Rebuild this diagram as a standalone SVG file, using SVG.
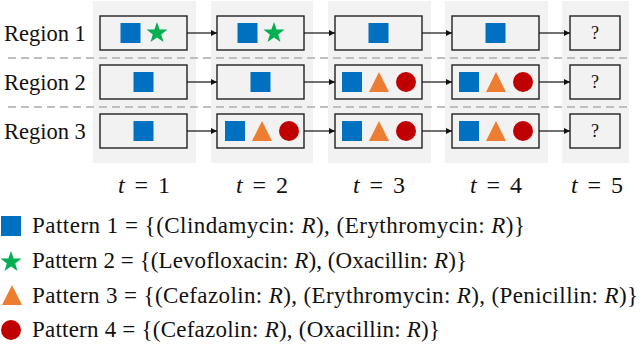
<svg xmlns="http://www.w3.org/2000/svg" xmlns:xlink="http://www.w3.org/1999/xlink" width="640" height="345" viewBox="0 0 640 345">
<style>
.col{fill:#f2f2f2}
.box{fill:#f2f2f2;stroke:#222;stroke-width:1.4}
.sq{fill:#0070c0}
.st{fill:#00b050}
.tr{fill:#ed7d31}
.ci{fill:#c00000}
.dash{stroke:#bfbfbf;stroke-width:2;stroke-dasharray:8 5;fill:none}
.edge{stroke:#111;stroke-width:1.2;fill:none;marker-end:url(#ah)}
.lbl{font-family:"Liberation Serif","Times New Roman",serif;font-size:22.5px;fill:#111}
.q{font-family:"Liberation Serif","Times New Roman",serif;font-size:18px;fill:#111;text-anchor:middle}
.t{font-family:"Liberation Serif","Times New Roman",serif;font-size:24px;fill:#111;text-anchor:middle}
.leg{font-family:"Liberation Serif","Times New Roman",serif;font-size:23px;fill:#111}
.i{font-style:italic}
</style>
<defs>
<marker id="ah" viewBox="0 0 10 10" refX="10" refY="5" markerWidth="6" markerHeight="6" markerUnits="userSpaceOnUse" orient="auto">
<path d="M0,0 L10,5 L0,10 Z" fill="#111"/>
</marker>
<rect id="s" x="-10" y="-10" width="20" height="20" class="sq"/>
<polygon id="star" class="st" points="0,-11 2.6,-3.6 10.5,-3.4 4.2,1.4 6.5,8.9 0,4.5 -6.5,8.9 -4.2,1.4 -10.5,-3.4 -2.6,-3.6"/>
<polygon id="tri" class="tr" points="0,-10 10,10 -10,10"/>
<circle id="cir" class="ci" r="10"/>
</defs>

<g id="columns">
<rect class="col" x="93" y="1" width="103" height="162"/>
<rect class="col" x="211" y="1" width="102" height="162"/>
<rect class="col" x="328" y="1" width="103" height="162"/>
<rect class="col" x="445" y="1" width="103" height="162"/>
<rect class="col" x="562" y="1" width="67" height="162"/>
</g>

<g id="separators">
<line class="dash" x1="8" y1="58" x2="632" y2="58"/>
<line class="dash" x1="8" y1="107" x2="632" y2="107"/>
</g>

<g id="row-labels">
<text class="lbl" x="4" y="41">Region 1</text>
<text class="lbl" x="4" y="90">Region 2</text>
<text class="lbl" x="4" y="139">Region 3</text>
</g>

<g id="r1t1"><rect class="box" x="100" y="16" width="87" height="34"/><use href="#s" x="130.5" y="33"/><use href="#star" x="157" y="33"/></g>
<g id="r1t2"><rect class="box" x="217" y="16" width="87" height="34"/><use href="#s" x="247.5" y="33"/><use href="#star" x="274" y="33"/></g>
<g id="r1t3"><rect class="box" x="335" y="16" width="87" height="34"/><use href="#s" x="378.5" y="33"/></g>
<g id="r1t4"><rect class="box" x="452" y="16" width="87" height="34"/><use href="#s" x="495.5" y="33"/></g>
<g id="r1t5"><rect class="box" x="570" y="16" width="50" height="34"/><text class="q" x="595" y="39">?</text></g>

<g id="r2t1"><rect class="box" x="100" y="65" width="87" height="34"/><use href="#s" x="143.5" y="82"/></g>
<g id="r2t2"><rect class="box" x="217" y="65" width="87" height="34"/><use href="#s" x="260.5" y="82"/></g>
<g id="r2t3"><rect class="box" x="335" y="65" width="87" height="34"/><use href="#s" x="352" y="82"/><use href="#tri" x="379" y="82"/><use href="#cir" x="406" y="82"/></g>
<g id="r2t4"><rect class="box" x="452" y="65" width="87" height="34"/><use href="#s" x="469" y="82"/><use href="#tri" x="496" y="82"/><use href="#cir" x="523" y="82"/></g>
<g id="r2t5"><rect class="box" x="570" y="65" width="50" height="34"/><text class="q" x="595" y="88">?</text></g>

<g id="r3t1"><rect class="box" x="100" y="114" width="87" height="34"/><use href="#s" x="143.5" y="131"/></g>
<g id="r3t2"><rect class="box" x="217" y="114" width="87" height="34"/><use href="#s" x="235" y="131"/><use href="#tri" x="262" y="131"/><use href="#cir" x="289" y="131"/></g>
<g id="r3t3"><rect class="box" x="335" y="114" width="87" height="34"/><use href="#s" x="352" y="131"/><use href="#tri" x="379" y="131"/><use href="#cir" x="406" y="131"/></g>
<g id="r3t4"><rect class="box" x="452" y="114" width="87" height="34"/><use href="#s" x="469" y="131"/><use href="#tri" x="496" y="131"/><use href="#cir" x="523" y="131"/></g>
<g id="r3t5"><rect class="box" x="570" y="114" width="50" height="34"/><text class="q" x="595" y="137">?</text></g>

<g id="connectors">
<line class="edge" x1="187" y1="33" x2="217" y2="33"/>
<line class="edge" x1="304" y1="33" x2="335" y2="33"/>
<line class="edge" x1="422" y1="33" x2="452" y2="33"/>
<line class="edge" x1="539" y1="33" x2="570" y2="33"/>
<line class="edge" x1="187" y1="82" x2="217" y2="82"/>
<line class="edge" x1="304" y1="82" x2="335" y2="82"/>
<line class="edge" x1="422" y1="82" x2="452" y2="82"/>
<line class="edge" x1="539" y1="82" x2="570" y2="82"/>
<line class="edge" x1="187" y1="131" x2="217" y2="131"/>
<line class="edge" x1="304" y1="131" x2="335" y2="131"/>
<line class="edge" x1="422" y1="131" x2="452" y2="131"/>
<line class="edge" x1="539" y1="131" x2="570" y2="131"/>
</g>

<g id="time-labels">
<text class="t" x="144" y="193" textLength="52"><tspan class="i">t</tspan> = 1</text>
<text class="t" x="262" y="193" textLength="52"><tspan class="i">t</tspan> = 2</text>
<text class="t" x="379" y="193" textLength="52"><tspan class="i">t</tspan> = 3</text>
<text class="t" x="496" y="193" textLength="52"><tspan class="i">t</tspan> = 4</text>
<text class="t" x="597" y="193" textLength="52"><tspan class="i">t</tspan> = 5</text>
</g>

<g id="legend">
<g id="leg1"><use href="#s" x="11" y="226"/><text class="leg" x="32" y="233" textLength="493">Pattern 1 = {(Clindamycin: <tspan class="i">R</tspan>), (Erythromycin: <tspan class="i">R</tspan>)}</text></g>
<g id="leg2"><use href="#star" x="11" y="262"/><text class="leg" x="32" y="268" textLength="435">Pattern 2 = {(Levofloxacin: <tspan class="i">R</tspan>), (Oxacillin: <tspan class="i">R</tspan>)}</text></g>
<g id="leg3"><use href="#tri" x="12" y="295"/><text class="leg" x="32" y="303" textLength="606">Pattern 3 = {(Cefazolin: <tspan class="i">R</tspan>), (Erythromycin: <tspan class="i">R</tspan>), (Penicillin: <tspan class="i">R</tspan>)}</text></g>
<g id="leg4"><use href="#cir" x="11" y="330"/><text class="leg" x="32" y="337" textLength="408">Pattern 4 = {(Cefazolin: <tspan class="i">R</tspan>), (Oxacillin: <tspan class="i">R</tspan>)}</text></g>
</g>
</svg>
